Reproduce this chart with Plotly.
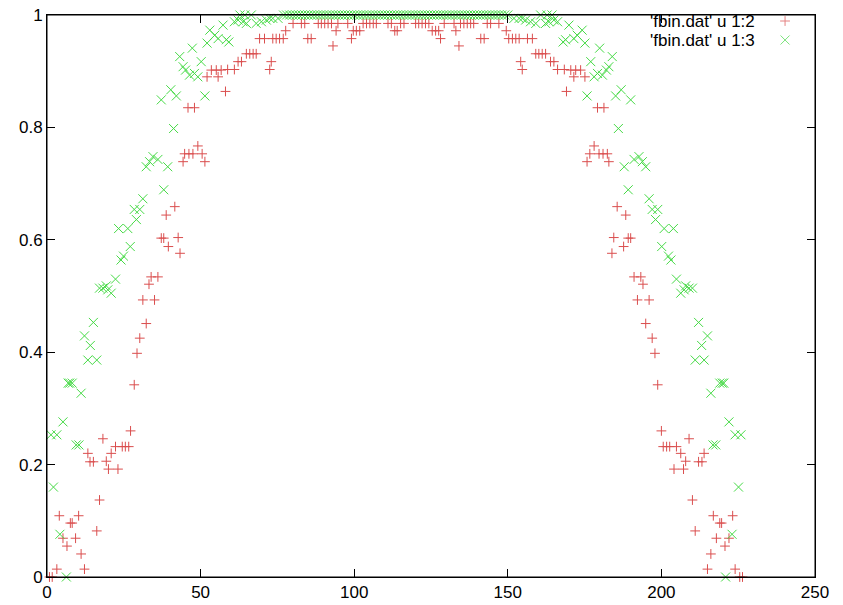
import plotly.graph_objects as go

# ---- data (x, value) ----
red_x_left = [0.8,1.7,3.2,4.0,5.2,6.5,7.6,8.2,9.3,10.3,
              11.1,12.2,13.3,14.0,15.1,16.2,17.1,18.2,19.3,20.0,
              20.9,22.3,23.1,24.5,25.5,26.6,27.2,28.4,29.3,30.2,
              31.2,32.3,33.2,33.9,35.0,36.1,37.2,38.0,38.8,39.5,
              41.6,42.7,43.3,44.3,44.8,45.9,46.2,47.5,48.0,49.1,
              50.5,51.4,52.1,53.5,55.1,55.7,56.7,58.1,58.8,61.0,
              62.2,63.3,64.9,66.0,67.1,68.1,69.2,70.8,72.5,73.0,
              73.5,74.6,75.7,76.9,77.7,80.1,82.8,83.9,84.9,86.0,
              88.3,89.3,90.4,91.5,92.6,93.1,94.1,94.7,97.9,99.1,
              99.7,100.7,101.8,102.9,104.0,105.1,106.2,107.2,111.0,112.1,
              113.2]
red_y_left = [0.0,0.0,0.014,0.109,0.069,0.055,0.096,0.096,0.069,0.109,
              0.041,0.014,0.220,0.205,0.205,0.082,0.137,0.246,0.206,0.192,
              0.220,0.232,0.192,0.232,0.232,0.232,0.260,0.342,0.398,0.425,
              0.493,0.451,0.521,0.534,0.493,0.534,0.603,0.603,0.644,0.588,
              0.659,0.604,0.576,0.739,0.753,0.835,0.753,0.753,0.835,0.767,
              0.753,0.739,0.890,0.902,0.902,0.890,0.902,0.864,0.903,0.903,
              0.917,0.917,0.931,0.931,0.931,0.931,0.958,0.958,0.903,0.917,
              0.958,0.958,0.958,0.958,0.972,0.985,0.985,0.985,0.958,0.958,
              0.985,0.985,0.985,0.985,0.985,0.945,0.972,0.985,0.985,0.958,
              0.972,0.972,0.972,0.985,0.985,0.985,0.985,0.985,0.985,0.985,
              0.972]
red_x_right = [114.0,115.1,116.2,120.0,121.0,122.1,123.2,124.3,125.4,126.5,
               127.5,128.1,129.3,132.5,133.1,134.1,134.6,135.7,136.8,137.9,
               138.9,141.2,142.3,143.3,144.4,147.1,149.5,150.3,151.5,152.6,
               153.7,154.2,154.7,156.4,158.0,159.1,160.1,161.2,162.3,163.9,
               165.0,166.2,168.4,169.1,170.5,171.5,172.1,173.7,175.1,175.8,
               176.7,178.1,179.2,179.7,181.0,181.3,182.4,182.9,183.9,184.5,
               185.6,187.7,188.4,189.2,190.0,191.1,192.2,193.3,194.0,194.9,
               196.0,197.0,197.9,198.8,200.0,200.6,201.7,202.7,204.1,204.9,
               206.3,207.2,207.9,209.0,210.1,211.0,212.1,213.2,213.9,215.0,
               216.1,216.9,217.9,219.0,219.6,220.7,222.0,223.2,224.0,225.5,
               226.4]
red_y_right = [0.972,
               0.985,0.985,0.985,0.985,0.985,0.985,0.985,0.972,0.972,0.972,
               0.958,0.985,0.985,0.972,0.945,0.985,0.985,0.985,0.985,0.985,
               0.958,0.958,0.985,0.985,0.985,0.972,0.958,0.958,0.958,0.958,
               0.917,0.903,0.958,0.958,0.931,0.931,0.931,0.931,0.917,0.917,
               0.903,0.903,0.864,0.902,0.890,0.902,0.902,0.890,0.739,0.753,
               0.767,0.835,0.753,0.753,0.835,0.753,0.739,0.576,0.604,0.659,
               0.588,0.644,0.603,0.603,0.534,0.493,0.534,0.521,0.451,0.493,
               0.425,0.398,0.342,0.260,0.232,0.232,0.232,0.192,0.232,0.220,
               0.192,0.206,0.246,0.137,0.082,0.205,0.205,0.220,0.014,0.041,
               0.109,0.069,0.096,0.096,0.055,0.069,0.109,0.014,0.0,0.0]

green_x_left = [1.3,2.1,3.2,4.2,5.2,6.3,6.9,7.4,8.2,9.5,
                10.4,11.1,12.2,13.3,14.1,15.1,16.2,17.1,18.2,19.3,
                19.8,20.9,22.3,23.3,24.1,24.9,26.3,27.1,28.4,29.1,
                30.2,31.2,32.3,33.4,34.5,36.1,37.2,38.0,39.3,40.3,
                41.2,42.1,43.2,44.3,45.1,46.4,47.3,48.0,49.1,50.2,
                51.4,52.1,53.0,54.6,55.7,57.3,58.4,59.2,61.0,62.2,
                62.8,63.8,64.4,64.9,66.5,68.1,69.8,71.4,72.5,73.5,75.2]
green_y_left = [0.253,0.160,0.253,0.076,0.276,0.0,0.345,0.345,0.345,0.235,
                0.235,0.327,0.429,0.386,0.412,0.453,0.386,0.514,0.514,0.518,
                0.511,0.505,0.530,0.620,0.564,0.571,0.620,0.588,0.654,0.636,
                0.654,0.673,0.730,0.739,0.748,0.743,0.849,0.689,0.730,0.867,
                0.798,0.856,0.926,0.908,0.902,0.893,0.941,0.896,0.890,0.917,
                0.856,0.950,0.973,0.964,0.958,0.982,0.956,0.952,0.988,0.991,
                1.0,0.988,1.0,0.985,1.0,0.985,0.988,0.991,0.994,0.994,0.994]
green_x_top = [77,78,79,80,81,82,83,84,85,86,87,88,89,90,91,92,93,94,95,96,
               97,98,99,100,101,102,103,104,105,106,107,108,109,110,111,112,
               113,114,115,116,117,118,119,120,121,122,123,124,125,126,127,128,
               129,130,131,132,133,134,135,136,137,138,139,140,141,142,143,144,
               145,146,147,148,149,150]
green_y_top = [1.0] * len(green_x_top)
green_x_right = [152.0,153.7,154.7,155.8,157.4,159.1,160.7,162.3,162.8,163.4,
                 164.4,165.0,166.2,168.0,168.8,169.9,171.5,172.6,174.2,175.1,
                 175.8,177.0,178.1,179.2,179.9,180.8,182.1,182.9,184.0,185.1,
                 186.0,186.9,187.9,189.2,190.0,191.1,192.7,193.8,194.9,196.0,
                 197.0,198.1,198.8,200.1,200.9,202.3,203.1,203.9,204.9,206.3,
                 207.4,207.9,209.0,210.1,211.0,212.1,213.1,213.9,215.0,216.1,
                 216.8,217.7,219.0,219.8,220.3,220.9,222.0,223.0,224.0,225.1,225.9]
green_y_right = [0.994,0.994,0.994,0.991,0.988,0.985,1.0,0.985,1.0,0.988,1.0,
                 0.991,0.988,0.952,0.956,0.982,0.958,0.964,0.973,0.950,0.856,
                 0.917,0.890,0.896,0.941,0.893,0.902,0.908,0.926,0.856,0.798,
                 0.867,0.730,0.689,0.849,0.743,0.748,0.739,0.730,0.673,0.654,
                 0.636,0.654,0.588,0.620,0.571,0.564,0.620,0.530,0.505,0.511,
                 0.518,0.514,0.514,0.386,0.453,0.412,0.386,0.429,0.327,0.235,
                 0.235,0.345,0.345,0.345,0.0,0.276,0.076,0.253,0.160,0.253]

red_x = red_x_left + red_x_right
red_y = red_y_left + red_y_right
green_x = green_x_left + green_x_top + green_x_right
green_y = green_y_left + green_y_top + green_y_right

x_ticks = [0, 50, 100, 150, 200, 250]
y_ticks = [0, 0.2, 0.4, 0.6, 0.8, 1]
legend_labels = ["'fbin.dat' u 1:2", "'fbin.dat' u 1:3"]

RED = "rgb(218,78,78)"
GREEN = "rgb(70,218,70)"
FONT = "Liberation Sans, Arial, Helvetica, sans-serif"

X_RANGE = [0, 250]
Y_RANGE = [0, 1]
# key layout, as fractions of the plot area (gnuplot key: text right-aligned, sample to its right)
KEY_TEXT_X = 0.925
KEY_SAMPLE_X = 0.961
KEY_ROWS = [0.9893, 0.9555]

fig = go.Figure()
fig.add_trace(go.Scatter(x=red_x, y=red_y, mode="markers", cliponaxis=False,
                         marker=dict(symbol="cross-thin", size=7, color=RED,
                                     line=dict(width=1, color=RED)),
                         showlegend=False, hoverinfo="skip"))
fig.add_trace(go.Scatter(x=green_x, y=green_y, mode="markers", cliponaxis=False,
                         marker=dict(symbol="x-thin", size=9, color=GREEN,
                                     line=dict(width=1, color=GREEN)),
                         showlegend=False, hoverinfo="skip"))

# key samples, placed through the main axes
sx = X_RANGE[0] + KEY_SAMPLE_X * (X_RANGE[1] - X_RANGE[0])
sy = [Y_RANGE[0] + f * (Y_RANGE[1] - Y_RANGE[0]) for f in KEY_ROWS]
fig.add_trace(go.Scatter(x=[sx, sx], y=sy, mode="markers", cliponaxis=False,
                         marker=dict(symbol=["cross-thin", "x-thin"], size=[7, 9],
                                     color=[RED, GREEN],
                                     line=dict(width=1, color=[RED, GREEN])),
                         showlegend=False, hoverinfo="skip"))
for lab, yy in zip(legend_labels, KEY_ROWS):
    fig.add_annotation(text=lab, xref="paper", yref="paper", x=KEY_TEXT_X, y=yy,
                       xanchor="right", yanchor="middle", showarrow=False,
                       font=dict(family=FONT, size=17, color="black"))

# plot border (gnuplot frame)
fig.add_shape(type="rect", xref="paper", yref="paper", x0=0, y0=0, x1=1, y1=1,
              line=dict(color="black", width=1), layer="above")

axis_common = dict(showline=True, linecolor="black", linewidth=1, mirror="ticks",
                   ticks="inside", ticklen=8, tickcolor="black", tickwidth=1,
                   showgrid=False, zeroline=False, automargin=False,
                   ticklabeloverflow="allow",
                   tickfont=dict(family=FONT, size=17, color="black"))
fig.update_layout(
    template="none",
    width=843, height=605,
    margin=dict(l=47, r=28, t=15, b=28),
    paper_bgcolor="white", plot_bgcolor="rgba(0,0,0,0)",
    xaxis=dict(range=X_RANGE, tickvals=x_ticks, **axis_common),
    yaxis=dict(range=Y_RANGE, tickvals=y_ticks,
               ticktext=[f"{v:g}" for v in y_ticks], **axis_common),
)

# remove the browser's default 8px body margin so the figure fills the window
fig.write_html("out.html", config={"displayModeBar": False},
               post_script="document.body.style.margin='0';document.body.style.overflow='hidden';")
